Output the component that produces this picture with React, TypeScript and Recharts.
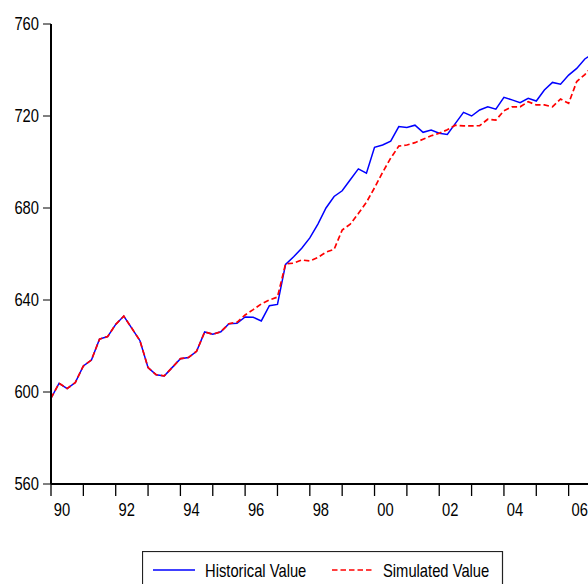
import React from 'react';
import { LineChart, Line, XAxis, YAxis, Legend } from 'recharts';

const historical = [
  597.3, 603.8, 601.5, 604.1, 611.3, 613.9, 623.0, 624.1, 629.4, 633.0,
  627.7, 622.3, 610.6, 607.5, 607.0, 610.7, 614.5, 615.0, 617.7, 626.1,
  625.1, 626.2, 629.7, 629.9, 632.6, 632.5, 630.9, 637.5, 638.1, 655.5,
  658.8, 662.5, 667.0, 673.0, 680.0, 685.0, 687.5, 692.3, 697.0, 695.1,
  706.4, 707.4, 709.1, 715.4, 715.0, 716.0, 712.9, 713.9, 712.5, 712.0,
  716.8, 721.6, 720.0, 722.6, 724.0, 723.0, 728.1, 727.0, 725.8, 727.7,
  726.5, 731.3, 734.6, 733.8, 737.8, 740.7, 744.8, 747.0,
];

const simulated = [
  597.3, 603.8, 601.5, 604.1, 611.3, 613.9, 623.0, 624.1, 629.4, 633.0,
  627.7, 622.3, 610.6, 607.5, 607.0, 610.7, 614.5, 615.0, 617.7, 626.1,
  625.1, 626.2, 629.7, 630.3, 633.5, 635.8, 638.3, 640.0, 641.3, 655.7,
  656.0, 657.4, 657.0, 658.5, 660.8, 662.0, 670.4, 673.0, 677.6, 682.5,
  688.8, 695.5, 701.7, 706.9, 707.4, 708.4, 709.9, 711.4, 712.5, 714.0,
  716.0, 715.7, 715.7, 715.8, 718.6, 718.2, 722.3, 724.0, 724.0, 726.2,
  724.8, 724.8, 724.0, 727.4, 725.5, 735.0, 738.0, 742.0,
];

const startYear = 1990;
const yearTicks = [1990, 1991, 1992, 1993, 1994, 1995, 1996, 1997, 1998, 1999, 2000, 2001, 2002, 2003, 2004, 2005, 2006, 2007];
const yTicks = [560, 600, 640, 680, 720, 760];
const seriesNames = ['Historical Value', 'Simulated Value'];

const data = historical.map((h, i) => ({
  t: startYear + i / 4,
  hist: h,
  sim: simulated[i],
}));

const FONT = "'Liberation Sans', Arial, sans-serif";
const NARROW = 0.82;

const XTick = (props: any) => {
  const { x, y, payload } = props;
  const yr = Math.round(payload.value);
  if (yr % 2 !== 0) return null;
  const label = String(yr % 100).padStart(2, '0');
  return (
    <g transform={`translate(${x + 11},${y + 18})`}>
      <text transform={`scale(${NARROW},1)`} x={0} y={0} textAnchor="middle" fontFamily={FONT} fontSize={18} fill="#000">
        {label}
      </text>
    </g>
  );
};

const YTick = (props: any) => {
  const { x, y, payload } = props;
  return (
    <g transform={`translate(${x - 1},${y + 6})`}>
      <text transform={`scale(${NARROW},1)`} x={0} y={0} textAnchor="end" fontFamily={FONT} fontSize={18} fill="#000">
        {payload.value}
      </text>
    </g>
  );
};

const LegendBox = () => (
  <svg width={362} height={40} style={{ display: 'block' }}>
    <rect x={0.5} y={0.5} width={360} height={45} fill="#fff" stroke="#222" strokeWidth={1.2} />
    <line x1={11} y1={19} x2={53} y2={19} stroke="#0000ff" strokeWidth={1.4} />
    <g transform="translate(63,25.5)">
      <text transform={`scale(${NARROW},1)`} x={0} y={0} fontFamily={FONT} fontSize={18} fill="#000">{seriesNames[0]}</text>
    </g>
    <line x1={190} y1={19} x2={231} y2={19} stroke="#ff0000" strokeWidth={1.6} strokeDasharray="5.5 3" />
    <g transform="translate(241,25.5)">
      <text transform={`scale(${NARROW},1)`} x={0} y={0} fontFamily={FONT} fontSize={18} fill="#000">{seriesNames[1]}</text>
    </g>
  </svg>
);

export default function App() {
  return (
    <div style={{ position: 'fixed', left: 0, top: 0, width: 588, height: 584, overflow: 'hidden', background: '#fff' }}>
      <LineChart width={620} height={584} data={data} margin={{ top: 24, right: 19, left: 0, bottom: 70 }}>
        <XAxis
          dataKey="t"
          type="number"
          domain={[1990, 2007]}
          ticks={yearTicks}
          interval={0}
          allowDataOverflow
          tickSize={12}
          tickMargin={2}
          height={30}
          axisLine={{ stroke: '#000', strokeWidth: 2 }}
          tickLine={{ stroke: '#000', strokeWidth: 1.3 }}
          tick={<XTick />}
        />
        <XAxis
          xAxisId="top"
          orientation="top"
          dataKey="t"
          type="number"
          domain={[1990, 2007]}
          height={0}
          tick={false}
          tickLine={false}
          axisLine={{ stroke: '#000', strokeWidth: 2 }}
        />
        <YAxis
          type="number"
          domain={[560, 760]}
          ticks={yTicks}
          interval={0}
          width={51}
          tickSize={8}
          tickMargin={3}
          axisLine={{ stroke: '#000', strokeWidth: 2 }}
          tickLine={{ stroke: '#000', strokeWidth: 1 }}
          tick={<YTick />}
        />
        <Line
          type="linear"
          dataKey="hist"
          name={seriesNames[0]}
          stroke="#0000ff"
          strokeWidth={1.5}
          dot={false}
          isAnimationActive={false}
        />
        <Line
          type="linear"
          dataKey="sim"
          name={seriesNames[1]}
          stroke="#ff0000"
          strokeWidth={1.7}
          strokeDasharray="5.5 3"
          dot={false}
          isAnimationActive={false}
        />
        <Legend
          layout="horizontal"
          verticalAlign="middle"
          align="center"
          content={<LegendBox />}
          wrapperStyle={{ position: 'absolute', left: 142, top: 551, width: 362, height: 40, margin: 0, padding: 0 }}
        />
      </LineChart>
    </div>
  );
}
